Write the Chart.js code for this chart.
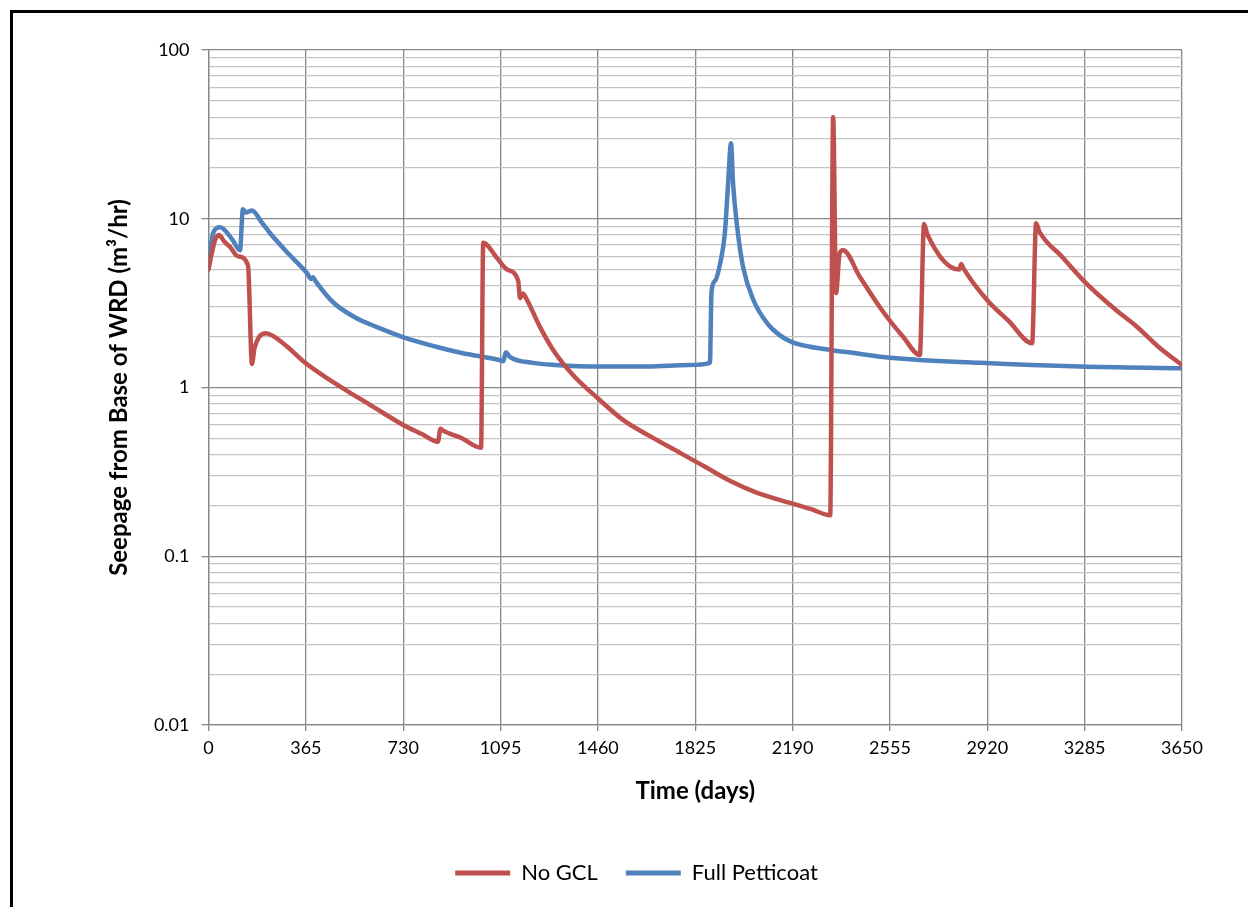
<!DOCTYPE html>
<html>
<head>
<meta charset="utf-8">
<script src="https://cdn.jsdelivr.net/npm/chart.js@4.4.1/dist/chart.umd.min.js"></script>
<style>
  html, body { margin: 0; padding: 0; background: #fff; }
  #wrap { position: relative; width: 1248px; height: 907px; overflow: hidden; }
  #frame { position: absolute; left: 10px; top: 10px; width: 1260px; height: 920px;
           border-left: 3px solid #000; border-top: 3px solid #000; box-sizing: border-box; pointer-events: none; }
  canvas { position: absolute; left: 0; top: 0; }
</style>
</head>
<body>
<div id="wrap">
  <canvas id="c" width="1248" height="907"></canvas>
  <div id="frame"></div>
</div>
<script>
// ---- Data ----
const seriesNames = ['No GCL', 'Full Petticoat'];

const noGclDays = [0, 10, 25, 39, 60, 81, 110, 148, 163, 172, 190, 215, 240, 270, 300, 365, 450, 531, 600, 730, 800, 860, 870, 880, 950, 1022,
  1030, 1080, 1120, 1161, 1168, 1178, 1190, 1243, 1300, 1370, 1468, 1550, 1650, 1768, 1860, 1955, 2050, 2180, 2260, 2331,
  2342, 2353, 2366, 2379, 2443, 2530, 2605, 2667, 2683, 2695, 2815, 2822, 2830, 2919, 3000, 3088,
  3103, 3115, 3200, 3287, 3400, 3480, 3560, 3650];
const noGclValues = [5.0, 6.0, 7.5, 8.0, 7.3, 6.8, 6.0, 5.3, 1.38, 1.7, 2.0, 2.1, 2.03, 1.88, 1.72, 1.39, 1.12, 0.93, 0.80, 0.60, 0.53, 0.477, 0.57, 0.555, 0.50, 0.44,
  7.2, 5.9, 5.0, 4.3, 3.39, 3.6, 3.4, 2.28, 1.6, 1.17, 0.84, 0.65, 0.52, 0.41, 0.34, 0.28, 0.24, 0.207, 0.19, 0.175,
  40, 3.63, 6.2, 6.5, 4.5, 2.8, 1.99, 1.56, 9.3, 8.1, 5.0, 5.4, 5.1, 3.3, 2.48, 1.83,
  9.4, 8.4, 5.96, 4.2, 2.9, 2.3, 1.75, 1.36];

const fullDays = [0, 17, 43, 60, 90, 118, 129, 140, 163, 200, 231, 300, 369, 385, 392, 400, 467, 550, 632, 729, 850, 950, 1093, 1105, 1115, 1130,
  1217, 1300, 1468, 1650, 1800, 1880, 1886, 1900, 1918, 1936, 1948, 1959, 1967, 1982, 2004, 2043, 2095, 2140, 2190, 2250, 2331, 2420, 2555, 2893, 3268, 3650];
const fullValues = [5.1, 8.2, 8.9, 8.6, 7.5, 6.5, 11.4, 10.9, 11.2, 9.5, 8.2, 6.2, 4.77, 4.4, 4.5, 4.3, 3.2, 2.6, 2.28, 1.99, 1.75, 1.6, 1.45, 1.43, 1.62, 1.52,
  1.40, 1.36, 1.33, 1.33, 1.36, 1.40, 3.7, 4.3, 5.4, 8.2, 16, 28, 16, 9.0, 5.2, 3.3, 2.4, 2.05, 1.85, 1.75, 1.67, 1.6, 1.5, 1.40, 1.33, 1.30];

const dayTicks = [0, 365, 730, 1095, 1460, 1825, 2190, 2555, 2920, 3285, 3650];
const decadeTicks = [0.01, 0.1, 1, 10, 100];
const decadeLabels = ['0.01', '0.1', '1', '10', '100'];
const minorMultipliers = [2, 3, 4, 5, 6, 7, 8, 9];

const xTitle = 'Time (days)';
const yTitle = 'Seepage from Base of WRD (m³/hr)';

// ---- Build structures ----
const toPoints = (xs, ys) => xs.map((x, i) => ({ x: x, y: ys[i] }));
const yTickValues = [];
decadeTicks.forEach((d, i) => {
  yTickValues.push(d);
  if (i < decadeTicks.length - 1) minorMultipliers.forEach(m => yTickValues.push(+(d * m).toPrecision(3)));
});
const isDecade = v => decadeTicks.some(d => Math.abs(d - v) / d < 1e-6);

const RED = '#C0504D', BLUE = '#4F81BD';
const FONT = 'Lato, "Open Sans", sans-serif';

new Chart(document.getElementById('c'), {
  type: 'line',
  data: {
    datasets: [
      { label: seriesNames[0], data: toPoints(noGclDays, noGclValues), borderColor: RED, backgroundColor: RED,
        borderWidth: 4.5, pointRadius: 0, cubicInterpolationMode: 'monotone', borderCapStyle: 'round', borderJoinStyle: 'round' },
      { label: seriesNames[1], data: toPoints(fullDays, fullValues), borderColor: BLUE, backgroundColor: BLUE,
        borderWidth: 4.5, pointRadius: 0, cubicInterpolationMode: 'monotone', borderCapStyle: 'round', borderJoinStyle: 'round' }
    ]
  },
  options: {
    responsive: false,
    animation: false,
    devicePixelRatio: 1,
    layout: { padding: { left: 91, right: 66, top: 50, bottom: 13 } },
    plugins: {
      tooltip: { enabled: false },
      legend: {
        position: 'bottom',
        labels: {
          font: { family: FONT, size: 22 },
          color: '#000',
          boxWidth: 55,
          boxHeight: 5,
          padding: 28,
          generateLabels: (chart) => Chart.defaults.plugins.legend.labels.generateLabels(chart)
            .map(l => Object.assign(l, { fillStyle: l.strokeStyle, lineWidth: 0 }))
        }
      }
    },
    scales: {
      x: {
        type: 'linear', min: 0, max: 3650,
        afterBuildTicks: (s) => { s.ticks = dayTicks.map(v => ({ value: v })); },
        afterFit: (s) => { s.height = 109; },
        ticks: { font: { family: FONT, size: 18 }, color: '#000', padding: 6, maxRotation: 0, autoSkip: false,
                 callback: (v) => String(v) },
        grid: { color: '#878787', lineWidth: 1.3, tickLength: 6, tickColor: '#878787' },
        border: { color: '#878787', width: 1.3 },
        title: { display: true, text: xTitle, color: '#000', font: { family: FONT, size: 24, weight: 'bold' },
                 padding: { top: 0, bottom: 28 } }
      },
      y: {
        type: 'logarithmic', min: 0.01, max: 100,
        afterBuildTicks: (s) => { s.ticks = yTickValues.map(v => ({ value: v, major: isDecade(v) })); },
        afterFit: (s) => { s.width = 117.5; },
        ticks: {
          font: { family: FONT, size: 18 }, color: '#000', padding: 12, autoSkip: false,
          callback: (v) => { const i = decadeTicks.findIndex(d => Math.abs(d - v) / d < 1e-6); return i >= 0 ? decadeLabels[i] : ''; }
        },
        grid: {
          color: (ctx) => isDecade(ctx.tick.value) ? '#878787' : '#c4c4c4',
          lineWidth: 1.3, tickLength: 7,
          tickColor: (ctx) => isDecade(ctx.tick.value) ? '#878787' : 'rgba(0,0,0,0)'
        },
        border: { color: '#878787', width: 1.3 },
        title: { display: true, text: yTitle, color: '#000', font: { family: FONT, size: 24, weight: 'bold' },
                 padding: { top: 14, bottom: 0 } }
      }
    }
  }
});
</script>
</body>
</html>
